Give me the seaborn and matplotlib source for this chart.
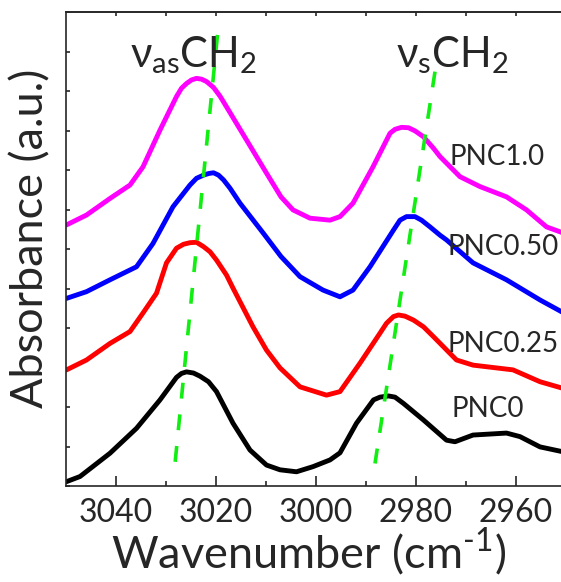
import matplotlib
matplotlib.use("Agg")
import matplotlib.pyplot as plt
import pandas as pd
import seaborn as sns

# estilo
sns.set_style("ticks")
plt.rcParams['font.family'] = ['Lato', 'DejaVu Sans']
plt.rcParams['mathtext.fontset'] = 'custom'
plt.rcParams['mathtext.rm'] = 'Lato'
plt.rcParams['mathtext.it'] = 'Lato:italic'
plt.rcParams['mathtext.default'] = 'regular'

# espectros (numero de onda, absorbancia deslocada)
wn_pnc0 = [3049.9, 3047.2, 3041.2, 3035.9, 3031.2, 3027.9, 3026.9, 3025.9, 3024.5, 3023.2,
           3021.5, 3019.9, 3016.6, 3013.2, 3009.9, 3007.2, 3003.9, 3000.6, 2997.2, 2995.2,
           2991.9, 2988.5, 2987.2, 2985.5, 2984.2, 2982.5, 2980.5, 2978.5, 2973.9, 2972.2,
           2968.6, 2961.9, 2959.2, 2955.2, 2950.0]
ab_pnc0 = [0.11, 0.24, 0.83, 1.46, 2.18, 2.75, 2.85, 2.89, 2.86, 2.78,
           2.64, 2.39, 1.59, 0.91, 0.53, 0.41, 0.36, 0.49, 0.66, 0.84,
           1.59, 2.18, 2.25, 2.28, 2.25, 2.09, 1.88, 1.67, 1.16, 1.12,
           1.29, 1.34, 1.25, 0.99, 0.85]

wn_pnc025 = [3049.9, 3045.9, 3041.2, 3037.2, 3034.6, 3031.9, 3029.9, 3027.9, 3026.5, 3025.2,
             3023.9, 3022.5, 3021.2, 3019.9, 3017.9, 3016.6, 3012.6, 3009.9, 3007.2, 3003.2,
             2997.9, 2995.2, 2991.2, 2987.2, 2985.9, 2984.5, 2983.5, 2982.2, 2980.5, 2978.5,
             2976.5, 2971.9, 2968.6, 2960.6, 2955.2, 2950.0]
ab_pnc025 = [2.94, 3.19, 3.61, 3.91, 4.38, 4.88, 5.65, 6.02, 6.12, 6.16,
             6.17, 6.06, 5.93, 5.72, 5.34, 5.01, 4.03, 3.44, 2.99, 2.51,
             2.30, 2.39, 3.11, 3.87, 4.12, 4.29, 4.33, 4.30, 4.20, 4.03,
             3.78, 3.19, 3.06, 2.94, 2.64, 2.45]

wn_pnc050 = [3049.9, 3045.9, 3041.2, 3035.9, 3032.6, 3028.6, 3025.2, 3023.9, 3022.5, 3021.5,
             3020.5, 3019.5, 3018.5, 3017.2, 3015.2, 3010.6, 3007.0, 3003.2, 2998.6, 2995.2,
             2992.6, 2989.2, 2984.5, 2983.2, 2981.9, 2980.2, 2978.9, 2977.2, 2975.2, 2973.9,
             2968.6, 2961.9, 2955.2, 2950.0]
ab_pnc050 = [4.75, 4.92, 5.22, 5.55, 6.14, 7.07, 7.62, 7.79, 7.87, 7.91,
             7.93, 7.87, 7.75, 7.54, 7.16, 6.41, 5.81, 5.30, 4.96, 4.79,
             4.96, 5.55, 6.48, 6.73, 6.82, 6.82, 6.73, 6.56, 6.35, 6.23,
             5.65, 5.22, 4.71, 4.35]

wn_pnc10 = [3049.9, 3045.9, 3041.2, 3037.2, 3034.6, 3031.2, 3027.9, 3026.9, 3025.9, 3024.9,
            3023.9, 3022.9, 3021.9, 3020.5, 3019.2, 3017.9, 3013.9, 3009.9, 3007.0, 3004.6,
            3001.2, 2997.2, 2995.2, 2992.6, 2988.6, 2985.2, 2984.2, 2982.9, 2981.5, 2980.2,
            2978.5, 2976.5, 2975.2, 2971.2, 2967.2, 2961.9, 2957.9, 2953.9, 2950.0]
ab_pnc10 = [6.61, 6.86, 7.28, 7.62, 8.08, 9.01, 9.86, 10.07, 10.19, 10.28,
            10.32, 10.30, 10.24, 10.09, 9.87, 9.60, 8.76, 7.92, 7.32, 6.99,
            6.78, 6.73, 6.82, 7.16, 8.08, 8.93, 9.03, 9.08, 9.07, 8.99,
            8.84, 8.55, 8.34, 7.83, 7.58, 7.32, 6.99, 6.56, 6.38]

amostras = ['PNC0', 'PNC0.25', 'PNC0.50', 'PNC1.0']
cores = ['black', 'red', 'blue', 'magenta']

# guias tracejadas (deslocamento dos picos)
guia_as_wn = [3019.7, 3028.2]
guia_as_y = [11.42, 0.57]
guia_s_wn = [2976.2, 2988.2]
guia_s_y = [10.49, 0.57]

df = pd.concat([
    pd.DataFrame({'wn': wn_pnc0, 'ab': ab_pnc0, 'amostra': 'PNC0'}),
    pd.DataFrame({'wn': wn_pnc025, 'ab': ab_pnc025, 'amostra': 'PNC0.25'}),
    pd.DataFrame({'wn': wn_pnc050, 'ab': ab_pnc050, 'amostra': 'PNC0.50'}),
    pd.DataFrame({'wn': wn_pnc10, 'ab': ab_pnc10, 'amostra': 'PNC1.0'}),
], ignore_index=True)

fig = plt.figure(figsize=(5.61, 5.82), dpi=100)
ax = fig.add_axes([66 / 561, 96 / 582, 495 / 561, 474 / 582])

sns.lineplot(data=df, x='wn', y='ab', hue='amostra', hue_order=amostras,
             palette=dict(zip(amostras, cores)), estimator=None, sort=False,
             linewidth=3.5, legend=False, ax=ax,
             solid_joinstyle='round', solid_capstyle='round')

ax.plot(guia_as_wn, guia_as_y, color='#11ee11', lw=2.6, dashes=(4.4, 4.4))
ax.plot(guia_s_wn, guia_s_y, color='#11ee11', lw=2.6, dashes=(4.4, 4.4))

# rotulos das curvas
ax.text(2973.2, 8.13, 'PNC1.0', fontsize=20, va='baseline')
ax.text(2973.6, 5.85, 'PNC0.50', fontsize=20, va='baseline')
ax.text(2973.8, 3.39, 'PNC0.25', fontsize=20, va='baseline')
ax.text(2972.8, 1.75, 'PNC0', fontsize=20, va='baseline')

ax.text(3037.2, 10.6, r'$\nu_{as}$CH$_2$', fontsize=30, va='baseline')
ax.text(2984.0, 10.6, r'$\nu_{s}$CH$_2$', fontsize=30, va='baseline')

ax.set_xlim(3050, 2951)
ax.set_ylim(0, 12)
ax.set_xticks([3040, 3020, 3000, 2980, 2960])
ax.set_xticks([3030, 3010, 2990, 2970], minor=True)
ax.set_yticks(range(0, 13))
ax.tick_params(axis='x', which='major', direction='in', length=7, width=1.2,
               labelsize=23, pad=9)
ax.tick_params(axis='x', which='minor', direction='in', length=3.6, width=1.2)
ax.tick_params(axis='y', direction='in', length=3, width=1.2, labelleft=False)

topo = ax.secondary_xaxis('top')
topo.set_xticks(range(2960, 3050, 10))
topo.tick_params(direction='in', length=3, width=1.2, labeltop=False)
topo.spines['top'].set_linewidth(1.2)

for lado in ['left', 'bottom', 'top']:
    ax.spines[lado].set_linewidth(1.2)
ax.spines['right'].set_visible(False)

ax.set_xlabel(r'Wavenumber (cm$^{\text{-}1}$)', fontsize=32.5)
ax.set_ylabel('Absorbance (a.u.)', fontsize=32.5)
ax.xaxis.set_label_coords(0.49, -0.084)
ax.yaxis.set_label_coords(-0.03, 0.522)

fig.savefig('out.png', dpi=100)
plt.close(fig)
